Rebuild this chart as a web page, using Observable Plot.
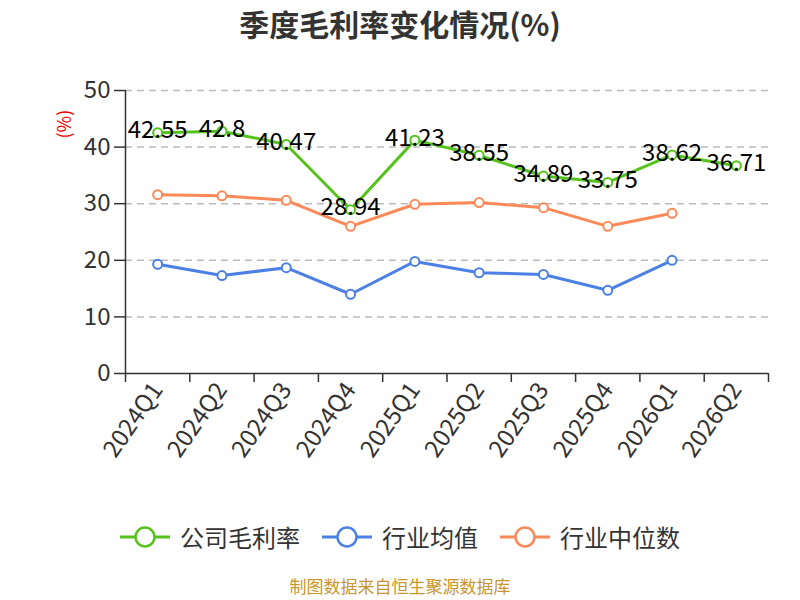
<!DOCTYPE html>
<html><head><meta charset="utf-8">
<script src="https://cdn.jsdelivr.net/npm/d3@7"></script>
<script src="https://cdn.jsdelivr.net/npm/@observablehq/plot@0.6"></script>
<style>
body{margin:0;background:#fff;font-family:"Noto Sans CJK SC","Noto Sans",sans-serif;}
#wrap{width:800px;height:600px;position:relative;overflow:hidden;}
#title{height:45px;line-height:46px;text-align:center;font-size:30px;font-weight:bold;color:#333;}
#legend{position:absolute;top:519px;left:0;width:800px;display:flex;justify-content:center;gap:22px;font-size:24px;color:#333;box-sizing:border-box;}
#legend .it{display:flex;align-items:center;gap:10px;}
#caption{position:absolute;top:574px;width:800px;height:24px;line-height:24px;text-align:center;font-size:17px;color:#c9952d;}
</style></head>
<body><div id="wrap"><div id="title">季度毛利率变化情况(%)</div><div id="chart"></div><div id="legend"></div><div id="caption">制图数据来自恒生聚源数据库</div></div>
<script>
const categories = ["2024Q1","2024Q2","2024Q3","2024Q4","2025Q1","2025Q2","2025Q3","2025Q4","2026Q1","2026Q2"];
const company = [42.55,42.8,40.47,28.94,41.23,38.55,34.89,33.75,38.62,36.71];
const industryAvg = [19.3,17.3,18.7,14.0,19.8,17.8,17.5,14.7,20.0,null];
const industryMed = [31.6,31.4,30.6,26.0,29.9,30.2,29.3,26.0,28.3,null];
const yTicks = [0,10,20,30,40,50];
const seriesNames = ["公司毛利率","行业均值","行业中位数"];
const colors = ["#55c31b","#4d80e4","#fb8a58"];

const rows = (vals,s) => vals.map((v,i)=>({i:i+0.5,v,s})).filter(d=>d.v!=null);
const dComp = rows(company,seriesNames[0]);
const dAvg = rows(industryAvg,seriesNames[1]);
const dMed = rows(industryMed,seriesNames[2]);
const FONT = "'Noto Sans CJK SC','Noto Sans',sans-serif";

const chart = Plot.plot({
  width:800, height:430,
  marginLeft:125, marginRight:32, marginTop:45, marginBottom:102,
  style:{fontSize:"24px", fontFamily:FONT, color:"#333", overflow:"visible"},
  x:{domain:[0,categories.length]},
  y:{domain:[0,50]},
  marks:[
    Plot.gridY(yTicks.filter(t=>t>0),{stroke:"#bbb",strokeOpacity:1,strokeDasharray:"7,5",strokeWidth:1.5}),
    Plot.axisY({ticks:yTicks,tickSize:11,tickPadding:4,stroke:"#333",fill:"#333",strokeWidth:1.5,fontSize:24,label:null}),
    Plot.ruleX([0],{stroke:"#333",strokeWidth:1.5}),
    Plot.ruleY([0],{stroke:"#333",strokeWidth:1.5}),
    Plot.axisX({ticks:d3.range(categories.length+1),tickSize:9,tickFormat:()=>"",stroke:"#333",strokeWidth:1.5,label:null}),
    Plot.axisX({ticks:d3.range(categories.length).map(i=>i+0.5),tickSize:0,tickPadding:12,tickRotate:-55,fontSize:24,tickFormat:d=>categories[Math.round(d-0.5)],fill:"#333",label:null}),
    Plot.line(dMed,{x:"i",y:"v",stroke:colors[2],strokeWidth:3}),
    Plot.line(dAvg,{x:"i",y:"v",stroke:colors[1],strokeWidth:3}),
    Plot.line(dComp,{x:"i",y:"v",stroke:colors[0],strokeWidth:3}),
    Plot.dot(dMed,{x:"i",y:"v",stroke:colors[2],fill:"#fff",r:4.5,strokeWidth:2}),
    Plot.dot(dAvg,{x:"i",y:"v",stroke:colors[1],fill:"#fff",r:4.5,strokeWidth:2}),
    Plot.dot(dComp,{x:"i",y:"v",stroke:colors[0],fill:"#fff",r:4.5,strokeWidth:2}),
    Plot.text(dComp,{x:"i",y:"v",text:d=>String(d.v),fill:"#000",fontSize:24,dy:-2}),
    Plot.text(["(%)"],{frameAnchor:"top-left",dx:-67,dy:48,rotate:-90,fill:"#e00",fontSize:18})
  ]
});
document.getElementById("chart").appendChild(chart);

const lg = document.getElementById("legend");
seriesNames.forEach((n,k)=>{
  const it=document.createElement("div");it.className="it";
  it.innerHTML=`<svg width="50" height="24"><line x1="0" y1="12" x2="50" y2="12" stroke="${colors[k]}" stroke-width="3"/><circle cx="25" cy="12" r="9.5" fill="#fff" stroke="${colors[k]}" stroke-width="2.5"/></svg><span>${n}</span>`;
  lg.appendChild(it);
});
</script></body></html>
